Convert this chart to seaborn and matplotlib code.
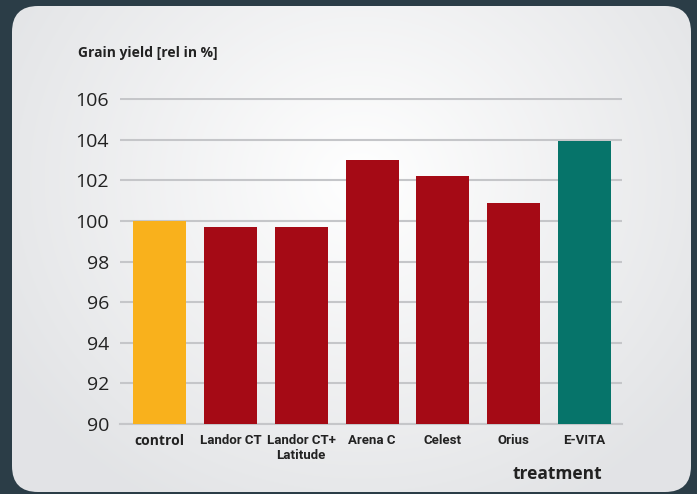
import numpy as np
import pandas as pd
import matplotlib
matplotlib.use("Agg")
import matplotlib.pyplot as plt
from matplotlib.patches import FancyBboxPatch
import seaborn as sns

categories = ["control", "Landor CT", "Landor CT+\nLatitude", "Arena C", "Celest", "Orius", "E-VITA"]
values = [100.0, 99.68, 99.68, 103.0, 102.22, 100.9, 103.95]
colors = ["#f9b11c", "#a50a15", "#a50a15", "#a50a15", "#a50a15", "#a50a15", "#06746a"]
yticks = [90, 92, 94, 96, 98, 100, 102, 104, 106]
title = "Grain yield [rel in %]"
xlabel = "treatment"

sns.set_theme(style="white")
plt.rcParams["font.family"] = ["Open Sans", "DejaVu Sans"]

W, H = 697, 494
fig = plt.figure(figsize=(W / 100, H / 100), dpi=100)
fig.patch.set_facecolor("#2b3d47")

# background panel with radial gradient
bg = fig.add_axes([0, 0, 1, 1])
bg.set_xlim(0, W)
bg.set_ylim(H, 0)
bg.axis("off")
yy, xx = np.mgrid[0:H, 0:W]
r = np.sqrt(((xx - 360) / 410.0) ** 2 + ((yy - 180) / 370.0) ** 2)
r = np.clip(r, 0, 1)
c0 = np.array([1.0, 1.0, 1.0])
c1 = np.array([0.888, 0.893, 0.902])
img = c0[None, None, :] * (1 - r[..., None]) + c1[None, None, :] * r[..., None]
im = bg.imshow(img, extent=(0, W, H, 0), zorder=1, interpolation="bilinear")
panel = FancyBboxPatch((12, 6), 679, 486, boxstyle="round,pad=0,rounding_size=26",
                       facecolor="none", edgecolor="none", transform=bg.transData)
bg.add_patch(panel)
im.set_clip_path(panel)

ax = fig.add_axes([120 / W, 1 - 424 / H, (622 - 120) / W, (424 - 98) / H])
ax.patch.set_alpha(0)
df = pd.DataFrame({"treatment": categories, "value": values})
sns.barplot(data=df, x="treatment", y="value", hue="treatment", palette=colors,
            legend=False, width=0.75, saturation=1, linewidth=0, edgecolor="none",
            ax=ax, zorder=3)
ax.set_ylim(90, 106.05)
ax.set_xlim(-0.56, 6.53)
ax.set_yticks(yticks)
ax.yaxis.grid(True, color="#c5c6c9", linewidth=1.5, zorder=0)
ax.set_axisbelow(True)
for s in ["top", "right", "left"]:
    ax.spines[s].set_visible(False)
ax.spines["bottom"].set_color("#c5c6c9")
ax.spines["bottom"].set_linewidth(1.5)
ax.tick_params(axis="both", length=0)
ax.tick_params(axis="y", pad=8, labelsize=14, labelcolor="#222222")
ax.tick_params(axis="x", pad=7, labelcolor="#222222")
ax.set_xlabel("")
ax.set_ylabel("")
for i, lbl in enumerate(ax.get_xticklabels()):
    lbl.set_fontweight("bold")
    if i == 0:
        lbl.set_fontfamily(["Open Sans", "DejaVu Sans"])
        lbl.set_fontsize(10)
    else:
        lbl.set_fontfamily(["Roboto", "DejaVu Sans"])
        lbl.set_fontsize(9.5)
    lbl.set_linespacing(1.2)

fig.text(78 / W, 1 - 53 / H, title, fontsize=10, fontweight="bold", color="#222222",
         ha="left", va="center")
fig.text(557 / W, 1 - 474 / H, xlabel, fontsize=12.5, fontweight="bold", color="#222222",
         ha="center", va="center")

fig.savefig("out.png", dpi=100, facecolor=fig.get_facecolor())
